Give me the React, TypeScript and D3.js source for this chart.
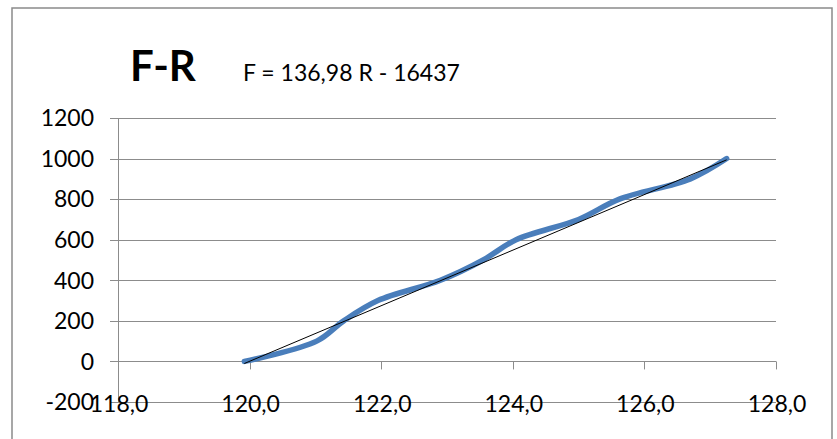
import React from "react";
import * as d3 from "d3";

const fValues = [0, 100, 200, 300, 400, 500, 600, 700, 800, 900, 1000];
const rValues = [119.92, 121.02, 121.43, 121.95, 122.9, 123.55, 124.05, 125.0, 125.62, 126.7, 127.25];
const xTicks = [118, 120, 122, 124, 126, 128];
const yTicks = [-200, 0, 200, 400, 600, 800, 1000, 1200];
const slope = 136.98;
const intercept = -16437;
const title = "F-R";
const equation = "F = 136,98 R - 16437";

const W = 837;
const H = 439;
const FONT = "Lato, 'Open Sans', sans-serif";

export default function App() {
  const x = d3.scaleLinear().domain([118, 128]).range([118, 776]);
  const y = d3.scaleLinear().domain([-200, 1200]).range([402, 118]);
  const pts = rValues.map((r, i) => [r, fValues[i]] as [number, number]);
  const line = d3
    .line<[number, number]>()
    .x((d) => x(d[0]))
    .y((d) => y(d[1]))
    .curve(d3.curveCatmullRom.alpha(0.5));
  const rMin = d3.min(rValues) as number;
  const rMax = d3.max(rValues) as number;
  const trend: [number, number][] = [
    [rMin, slope * rMin + intercept],
    [rMax, slope * rMax + intercept],
  ];
  const fmtX = (v: number) => v.toFixed(1).replace(".", ",");
  const gridColor = "#8c8c8c";
  return (
    <svg width={W} height={H} style={{ position: "absolute", left: 0, top: 0, background: "#fff" }}>
      <rect x={12} y={8} width={820} height={450} fill="#fff" stroke="#8a8a8a" strokeWidth={1.5} />
      {yTicks.map((t) => (
        <line key={"g" + t} x1={110} x2={776} y1={Math.round(y(t)) + 0.5} y2={Math.round(y(t)) + 0.5} stroke={gridColor} strokeWidth={1} />
      ))}
      <line x1={x(118) + 0.5} x2={x(118) + 0.5} y1={y(1200)} y2={y(-200)} stroke={gridColor} strokeWidth={1} />
      {xTicks.map((t) => (
        <line key={"xt" + t} x1={Math.round(x(t)) + 0.5} x2={Math.round(x(t)) + 0.5} y1={y(0)} y2={y(0) + 8} stroke={gridColor} strokeWidth={1} />
      ))}
      {yTicks.map((t) => (
        <text key={"yl" + t} x={94} y={y(t)} dy="0.36em" textAnchor="end" fontFamily={FONT} fontSize={23} fill="#000">
          {t}
        </text>
      ))}
      {xTicks.map((t) => (
        <text key={"xl" + t} x={x(t) + 1} y={412} textAnchor="middle" fontFamily={FONT} fontSize={23} fill="#000">
          {fmtX(t)}
        </text>
      ))}
      <path d={line(pts) || ""} fill="none" stroke="#4a7ebb" strokeWidth={5.5} strokeLinecap="round" strokeLinejoin="round" />
      <path d={d3.line<[number, number]>().x((d) => x(d[0])).y((d) => y(d[1]))(trend) || ""} fill="none" stroke="#000" strokeWidth={1} />
      <text x={130} y={81} fontFamily={FONT} fontSize={42} fontWeight="bold" fill="#000">
        {title}
      </text>
      <text x={243} y={81} fontFamily={FONT} fontSize={23} fill="#000">
        {equation}
      </text>
    </svg>
  );
}
